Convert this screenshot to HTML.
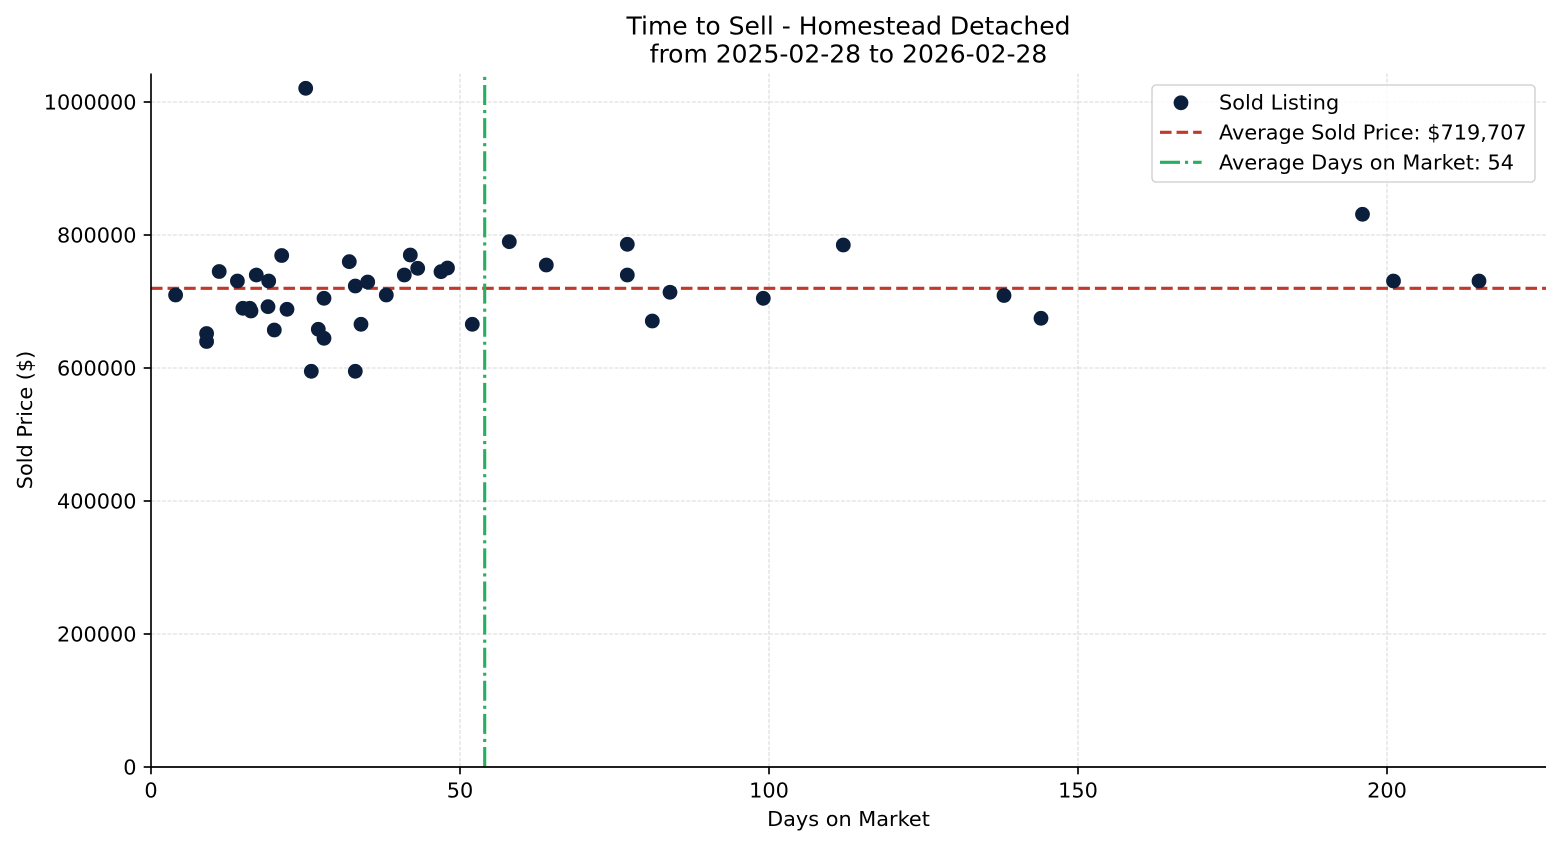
<!DOCTYPE html>
<html>
<head>
<meta charset="utf-8">
<style>
  html, body { margin: 0; padding: 0; background: #ffffff; }
  svg { display: block; }
  text { font-family: "DejaVu Sans", "Liberation Sans", sans-serif; fill: #000; }
</style>
</head>
<body>
<svg width="1560" height="845" viewBox="0 0 1560 845" xmlns="http://www.w3.org/2000/svg">
  <rect x="0" y="0" width="1560" height="845" fill="#ffffff"/>

  <g stroke="#b0b0b0" stroke-width="0.8" stroke-dasharray="3.85,1.67" opacity="0.65">
    <line x1="460" y1="767" x2="460" y2="73.5"/>
    <line x1="769" y1="767" x2="769" y2="73.5"/>
    <line x1="1078" y1="767" x2="1078" y2="73.5"/>
    <line x1="1387" y1="767" x2="1387" y2="73.5"/>
    <line x1="151" y1="634" x2="1546" y2="634"/>
    <line x1="151" y1="501" x2="1546" y2="501"/>
    <line x1="151" y1="368" x2="1546" y2="368"/>
    <line x1="151" y1="235" x2="1546" y2="235"/>
    <line x1="151" y1="102" x2="1546" y2="102"/>
  </g>

  <line x1="151" y1="288.3" x2="1546" y2="288.3" stroke="#c0392b" stroke-width="3.1" stroke-dasharray="11.56,5"/>
  <line x1="484.7" y1="767" x2="484.7" y2="73.5" stroke="#27ae60" stroke-width="3.1" stroke-dasharray="20,5,3.1,5"/>

  <g fill="#0b1f3c">
    <circle cx="175.6" cy="295" r="7.4"/>
    <circle cx="206.6" cy="333.5" r="7.4"/>
    <circle cx="206.6" cy="341.5" r="7.4"/>
    <circle cx="219.2" cy="271.5" r="7.4"/>
    <circle cx="237.4" cy="281" r="7.4"/>
    <circle cx="242.9" cy="308.3" r="7.4"/>
    <circle cx="249.8" cy="308.3" r="7.4"/>
    <circle cx="251" cy="311" r="7.4"/>
    <circle cx="256.3" cy="275" r="7.4"/>
    <circle cx="268.7" cy="281" r="7.4"/>
    <circle cx="268" cy="306.7" r="7.4"/>
    <circle cx="274.3" cy="330" r="7.4"/>
    <circle cx="281.7" cy="255.5" r="7.4"/>
    <circle cx="287" cy="309.3" r="7.4"/>
    <circle cx="305.7" cy="88.3" r="7.4"/>
    <circle cx="311.3" cy="371.3" r="7.4"/>
    <circle cx="318.3" cy="329.3" r="7.4"/>
    <circle cx="324" cy="298.3" r="7.4"/>
    <circle cx="324" cy="338.3" r="7.4"/>
    <circle cx="349.3" cy="261.7" r="7.4"/>
    <circle cx="355.3" cy="286" r="7.4"/>
    <circle cx="355.3" cy="371.3" r="7.4"/>
    <circle cx="361" cy="324.3" r="7.4"/>
    <circle cx="367.7" cy="282" r="7.4"/>
    <circle cx="386.3" cy="295" r="7.4"/>
    <circle cx="404.3" cy="275" r="7.4"/>
    <circle cx="410.3" cy="255" r="7.4"/>
    <circle cx="417.7" cy="268.3" r="7.4"/>
    <circle cx="441" cy="271.7" r="7.4"/>
    <circle cx="447.5" cy="268" r="7.4"/>
    <circle cx="472.3" cy="324.3" r="7.4"/>
    <circle cx="509.3" cy="241.7" r="7.4"/>
    <circle cx="546.3" cy="265" r="7.4"/>
    <circle cx="627.3" cy="244.3" r="7.4"/>
    <circle cx="627.3" cy="275" r="7.4"/>
    <circle cx="652.3" cy="321" r="7.4"/>
    <circle cx="670" cy="292.3" r="7.4"/>
    <circle cx="763.3" cy="298.3" r="7.4"/>
    <circle cx="843.3" cy="245" r="7.4"/>
    <circle cx="1004" cy="295.5" r="7.4"/>
    <circle cx="1041" cy="318.3" r="7.4"/>
    <circle cx="1362.5" cy="214.3" r="7.4"/>
    <circle cx="1393.5" cy="281" r="7.4"/>
    <circle cx="1479" cy="281" r="7.4"/>
  </g>

  <line x1="151" y1="73.5" x2="151" y2="767.8" stroke="#000" stroke-width="1.67"/>
  <line x1="150.2" y1="767" x2="1546" y2="767" stroke="#000" stroke-width="1.67"/>

  <g stroke="#000" stroke-width="1.67">
    <line x1="151" y1="767" x2="151" y2="774.3"/>
    <line x1="460" y1="767" x2="460" y2="774.3"/>
    <line x1="769" y1="767" x2="769" y2="774.3"/>
    <line x1="1078" y1="767" x2="1078" y2="774.3"/>
    <line x1="1387" y1="767" x2="1387" y2="774.3"/>
    <line x1="143.7" y1="767" x2="151" y2="767"/>
    <line x1="143.7" y1="634" x2="151" y2="634"/>
    <line x1="143.7" y1="501" x2="151" y2="501"/>
    <line x1="143.7" y1="368" x2="151" y2="368"/>
    <line x1="143.7" y1="235" x2="151" y2="235"/>
    <line x1="143.7" y1="102" x2="151" y2="102"/>
  </g>

  <g font-size="20.83" text-anchor="middle">
    <text x="151" y="797.3">0</text>
    <text x="460" y="797.3">50</text>
    <text x="769" y="797.3">100</text>
    <text x="1078" y="797.3">150</text>
    <text x="1387" y="797.3">200</text>
  </g>
  <g font-size="20.83" text-anchor="end">
    <text x="136.5" y="774.6">0</text>
    <text x="136.5" y="641.6">200000</text>
    <text x="136.5" y="508.6">400000</text>
    <text x="136.5" y="375.6">600000</text>
    <text x="136.5" y="242.6">800000</text>
    <text x="136.5" y="109.6">1000000</text>
  </g>

  <text x="848.5" y="826" font-size="20.83" text-anchor="middle">Days on Market</text>
  <text transform="translate(31.8,420) rotate(-90)" font-size="20.83" text-anchor="middle">Sold Price ($)</text>

  <text x="848.5" y="34.3" font-size="25" text-anchor="middle">Time to Sell - Homestead Detached</text>
  <text x="848.5" y="62.7" font-size="25" text-anchor="middle">from 2025-02-28 to 2026-02-28</text>

  <rect x="1152" y="85" width="383" height="97" rx="4" ry="4" fill="#ffffff" fill-opacity="0.8" stroke="#cccccc" stroke-width="1.3"/>
  <circle cx="1181" cy="102.8" r="7.4" fill="#0b1f3c"/>
  <line x1="1160" y1="132.3" x2="1201.6" y2="132.3" stroke="#c0392b" stroke-width="3.1" stroke-dasharray="11.56,5"/>
  <line x1="1160" y1="162.3" x2="1201.6" y2="162.3" stroke="#27ae60" stroke-width="3.1" stroke-dasharray="20,5,3.1,5"/>
  <g font-size="20.83">
    <text x="1219" y="109.5">Sold Listing</text>
    <text x="1219" y="139.5">Average Sold Price: $719,707</text>
    <text x="1219" y="169.7">Average Days on Market: 54</text>
  </g>
</svg>
</body>
</html>
